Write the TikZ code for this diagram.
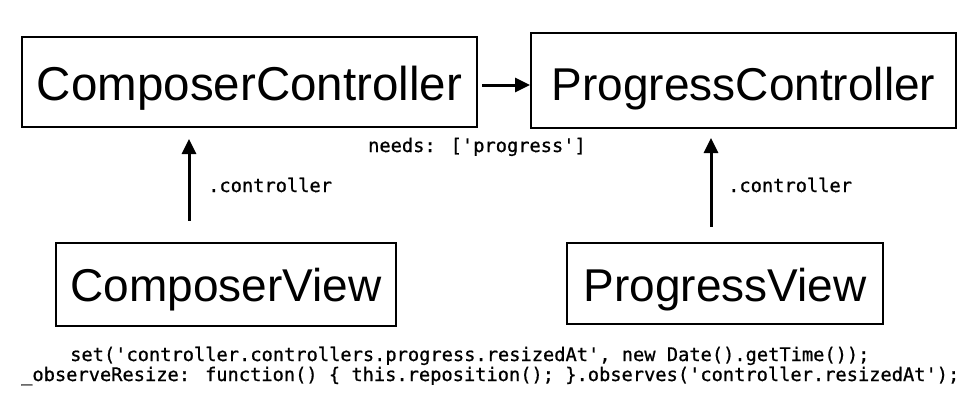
\documentclass[tikz,border=0pt]{standalone}
\usepackage{fontspec}
\setmainfont{Liberation Sans}
\newfontfamily\codefont[FakeBold=0.8]{DejaVu Sans Mono}
\usetikzlibrary{arrows.meta}
\begin{document}
\begin{tikzpicture}[x=1pt,y=-1pt,
  box/.style={draw, line width=2pt, inner sep=0pt, text depth=0pt, font=\fontsize{46}{50}\selectfont},
  code/.style={inner sep=0pt, font=\codefont\fontsize{18.7}{20}\selectfont},
  link/.style={line width=3pt, -{Triangle[length=15pt,width=14pt]}}]
\useasboundingbox[fill=white] (0,0) rectangle (974,420);
\node[box, minimum width=455pt, minimum height=90pt, text height=37.5pt, font=\fontsize{47.5}{50}\selectfont] (cc) at (249.5,82) {ComposerController};
\node[box, minimum width=425pt, minimum height=95pt, text height=39.5pt] (pc) at (743.5,80.5) {ProgressController};
\node[box, minimum width=340pt, minimum height=83pt, text height=35.5pt] (cv) at (226,284) {ComposerView};
\node[box, minimum width=316pt, minimum height=81pt, text height=37.5pt] (pv) at (725,283) {ProgressView};
\coordinate (a1) at (189,0);
\coordinate (a2) at (711,0);
\draw[link, shorten <=4pt] ([yshift=-3pt]cc.east) -- ([yshift=-3pt]cc.east -| pc.west);
\draw[link, shorten <=21pt, shorten >=11pt] (cv.north -| a1) -- (cc.south -| a1);
\draw[link, shorten <=15pt, shorten >=9pt] (pv.north -| a2) -- (pc.south -| a2);
\node[code, anchor=base west] (l1) at (208,192) {.controller};
\node[code, anchor=base west] (l2) at (728,192) {.controller};
\node[code, anchor=base] (needs) at (477,152) {needs: ['progress']};
\node[code, anchor=base west] (s1) at (70,361) {set('controller.controllers.progress.resizedAt', new Date().getTime());};
\node[code, anchor=base west] (s2) at (21,381) {\_observeResize: function() \{ this.reposition(); \}.observes('controller.resizedAt');};
\end{tikzpicture}
\end{document}
